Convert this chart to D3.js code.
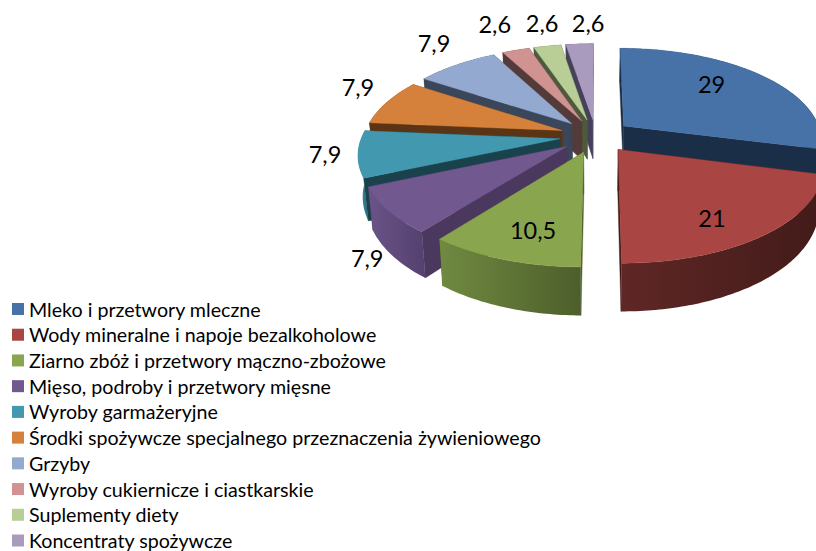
<!DOCTYPE html>
<html><head><meta charset="utf-8">
<script src="https://cdn.jsdelivr.net/npm/d3@7"></script>
<style>html,body{margin:0;padding:0;background:#fff;overflow:hidden}svg{display:block}text{font-family:Lato,sans-serif;fill:#000}</style>
</head><body><svg id="c" width="816" height="551"></svg>
<script>
const categories=["Mleko i przetwory mleczne","Wody mineralne i napoje bezalkoholowe","Ziarno zbóż i przetwory mączno-zbożowe","Mięso, podroby i przetwory mięsne","Wyroby garmażeryjne","Środki spożywcze specjalnego przeznaczenia żywieniowego","Grzyby","Wyroby cukiernicze i ciastkarskie","Suplementy diety","Koncentraty spożywcze"];
const values=[29,21,10.5,7.9,7.9,7.9,7.9,2.6,2.6,2.6];
const valueLabels=["29","21","10,5","7,9","7,9","7,9","7,9","2,6","2,6","2,6"];
const topColors=["#4672a8","#a94542","#89a54e","#71588f","#4198af","#d6813b","#93a9cf","#d19392","#b9cd96","#a99bbd"];
const wallColors=["#1b2e47","#431c1a","#4e6029","#4b385f","#1a424c","#5a3414","#3a4659","#553a3a","#4e5a3c","#46405a"];
const rimLeft=["#1b2e47","#5f2725","#708a41","#6a5388","#3a879c","#5a3414","#3a4659","#553a3a","#4e5a3c","#46405a"];
const rimRight=["#1b2e47","#421b19","#4d5e2b","#54416f","#2c6f80","#5a3414","#3a4659","#553a3a","#4e5a3c","#46405a"];

const cx=595.7,cy=136,R=198,tilt=.465,persp=.15,depth=40,explode=36;
const svg=d3.select("#c");
const defs=svg.append("defs");
const project=(X,Y,z)=>{const s=1/(1-persp*Y/R);return [cx+X*s*(z?.98:1),cy+Y*tilt*s+(z?depth*s:0)];};
const pie=d3.pie().sort(null).value(d=>d)(values);
const line=d3.line();
const polar=(a,r,o)=>[o[0]+r*Math.sin(a),o[1]-r*Math.cos(a)];
const slices=pie.map((p,i)=>{const mid=(p.startAngle+p.endAngle)/2;
  return {...p,i,mid,o:[explode*Math.sin(mid),-explode*Math.cos(mid)]};});
const order=slices.slice().sort((a,b)=>a.o[1]-b.o[1]);
order.forEach(s=>{
  const g=svg.append("g");
  const n=Math.max(8,Math.ceil((s.endAngle-s.startAngle)*60));
  const arc=d3.range(n+1).map(k=>polar(s.startAngle+(s.endAngle-s.startAngle)*k/n,R,s.o));
  const top=arc.map(q=>project(q[0],q[1],0)),bot=arc.map(q=>project(q[0],q[1],1));
  const aT=project(s.o[0],s.o[1],0),aB=project(s.o[0],s.o[1],1);
  const wall=(q0,q1)=>g.append("path").attr("d",line([q0,q1,aB,aT])+"Z").attr("fill",wallColors[s.i]).attr("stroke",wallColors[s.i]).attr("stroke-width",.4);
  const startFront=-Math.sin(s.startAngle)>.02,endFront=Math.sin(s.endAngle)>.02;
  if(!startFront)wall(top[0],bot[0]);
  if(!endFront)wall(top[n],bot[n]);
  const id="rim"+s.i;
  const gr=defs.append("linearGradient").attr("id",id);
  gr.append("stop").attr("offset",0).attr("stop-color",rimLeft[s.i]);
  gr.append("stop").attr("offset",1).attr("stop-color",rimRight[s.i]);
  g.append("path").attr("d",line(top.concat(bot.slice().reverse()))+"Z").attr("fill",`url(#${id})`);
  if(startFront)wall(top[0],bot[0]);
  if(endFront)wall(top[n],bot[n]);
  g.append("path").attr("d",line([aT].concat(top))+"Z").attr("fill",topColors[s.i]).attr("stroke",topColors[s.i]).attr("stroke-width",.4);
});
// data labels
const labelRadius=[.62,.6,.62,1.12,1.12,1.12,1.12,1.12,1.12,1.12];
const labelNudgeX=[-1,12,-4,3,-8,-9,-10,-14,-1,10];
const labelNudgeY=[-10,19,15,39,-2,-12,-16,-19,-15,-13];
svg.append("g").selectAll("text").data(slices).join("text")
 .attr("text-anchor","middle").attr("dominant-baseline","central").attr("font-size",23.5)
 .attr("x",s=>project(...polar(s.mid,R*labelRadius[s.i],s.o),0)[0]+labelNudgeX[s.i])
 .attr("y",s=>project(...polar(s.mid,R*labelRadius[s.i],s.o),0)[1]+labelNudgeY[s.i])
 .text(s=>valueLabels[s.i]);
// legend
const rowY=d3.scalePoint().domain(categories).range([309,540.5]);
const lg=svg.append("g").selectAll("g").data(categories).join("g").attr("transform",d=>`translate(0,${rowY(d)})`);
lg.append("rect").attr("x",12).attr("y",-6).attr("width",12).attr("height",12).attr("fill",(d,i)=>topColors[i]);
lg.append("text").attr("x",29).attr("dominant-baseline","central").attr("font-size",19.65).text(d=>d);
</script></body></html>
